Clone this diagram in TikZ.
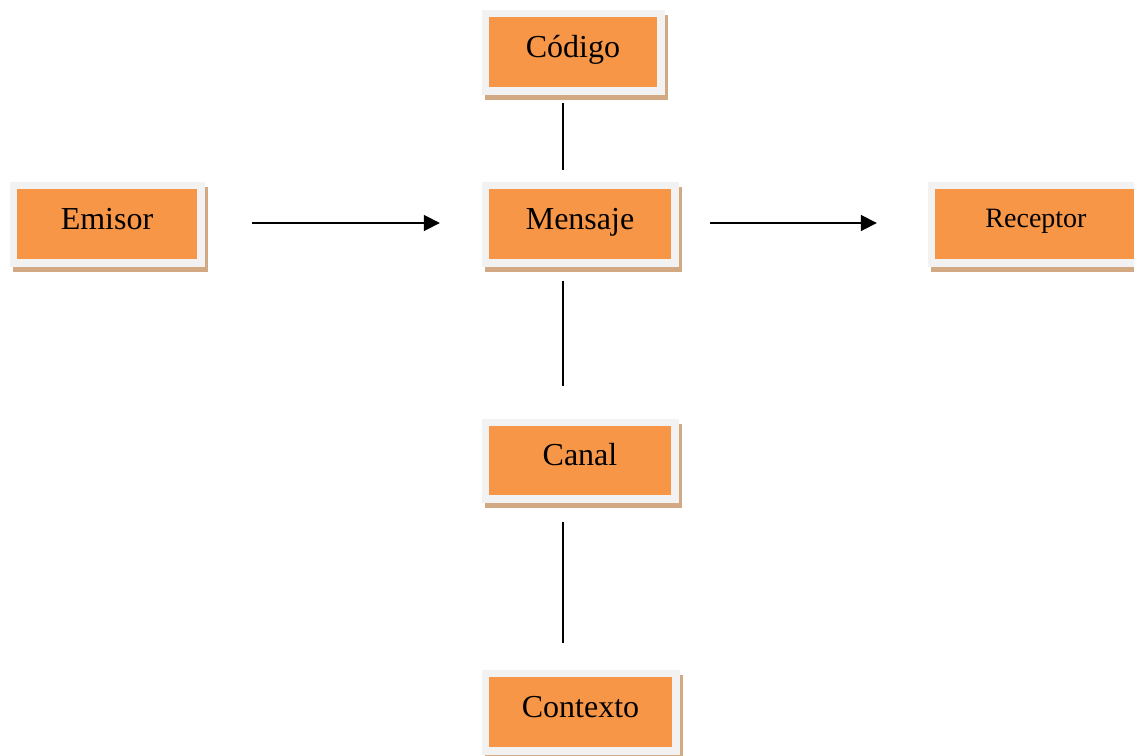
\documentclass[tikz,border=0pt]{standalone}
\usepackage{fontspec}
\setmainfont{Liberation Serif}
\usetikzlibrary{arrows.meta}
\definecolor{orng}{HTML}{F79646}
\definecolor{frame}{HTML}{F2F2F2}
\definecolor{shad}{HTML}{D3A984}
\begin{document}
\begin{tikzpicture}[x=1pt,y=-1pt,
  boxnode/.style={fill=orng, minimum height=70pt, inner sep=0pt,
    text height=22pt, text depth=12pt, font=\fontsize{32}{36}\selectfont,
    preaction={draw=shad, fill=shad, line width=15pt, transform canvas={shift={(3pt,-5pt)}}},
    preaction={draw=frame, line width=15pt}},
  conn/.style={line width=1.8pt, black},
  arr/.style={conn, -{Triangle[length=16pt,width=16pt]}}]
\useasboundingbox (0,0) rectangle (1134,755);
\node[boxnode, minimum width=168pt] (cod) at (573,52) {Código};
\node[boxnode, minimum width=180pt] (emi) at (107,224) {Emisor};
\node[boxnode, minimum width=182pt] (men) at (580,224) {Mensaje};
\node[boxnode, minimum width=202pt, font=\fontsize{28}{32}\selectfont, text height=20pt, text depth=14pt] (rec) at (1036,224) {Receptor};
\node[boxnode, minimum width=182pt, minimum height=69pt] (can) at (580,460.5) {Canal};
\node[boxnode, minimum width=183pt] (ctx) at (580.5,712) {Contexto};
\coordinate (lx) at (563,0);
\coordinate (ly) at (0,223);
\draw[conn, shorten <=16pt, shorten >=19pt] (cod.south -| lx) -- (men.north -| lx);
\draw[conn, shorten <=22pt, shorten >=40pt] (men.south -| lx) -- (can.north -| lx);
\draw[conn, shorten <=27pt, shorten >=34pt] (can.south -| lx) -- (ctx.north -| lx);
\draw[arr, shorten <=55pt, shorten >=49pt] (emi.east |- ly) -- (men.west |- ly);
\draw[arr, shorten <=39pt, shorten >=58pt] (men.east |- ly) -- (rec.west |- ly);
\end{tikzpicture}
\end{document}
